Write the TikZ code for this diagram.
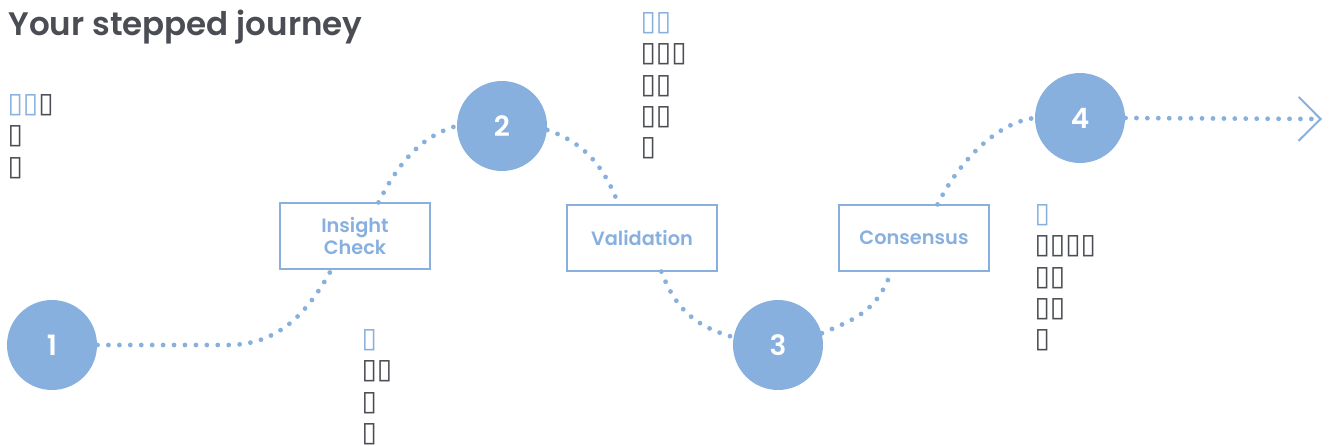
\documentclass[tikz,border=0pt]{standalone}
\usepackage{fontspec}
\setmainfont{Poppins}[BoldFont={Poppins SemiBold}]
\newfontfamily\boxfont{DejaVu Sans}
\usetikzlibrary{arrows.meta}
\definecolor{stepblue}{RGB}{136,176,222}
\definecolor{inkgray}{RGB}{74,77,84}
\tikzset{every picture/.style={line width=0.75pt}}
\tikzset{
  stepcircle/.style={circle, fill=stepblue, minimum size=67.5pt, inner sep=0pt, text=white, font=\bfseries\fontsize{21}{21}\selectfont},
  stagebox/.style={draw=stepblue, line width=0.9pt, minimum width=112.5pt, minimum height=49.5pt, inner sep=0pt, text=stepblue, align=center, font=\bfseries\fontsize{14.5}{17}\selectfont},
  dotline/.style={draw=stepblue, line width=3.6pt, line cap=round, dash pattern=on 0pt off 8.2pt},
  notebox/.style={anchor=north west, inner sep=0pt, align=left, text=inkgray, font=\boxfont\bfseries\fontsize{21}{23.5}\selectfont},
}

\begin{document}
\begin{tikzpicture}[x=0.75pt,y=0.75pt,yscale=-1,xscale=1]
\useasboundingbox (0,0) rectangle (1332,446);

% Title
\node [anchor=base west, inner sep=0pt, text=inkgray, font=\bfseries\fontsize{24.4}{24.4}\selectfont] (title) at (8,36) {Your stepped journey};

%Shape: Circle steps
\node [stepcircle] (c1) at (52,345) {1};
\node [stepcircle] (c2) at (502,126) {2};
\node [stepcircle] (c3) at (778,345) {3};
\node [stepcircle] (c4) at (1080,118) {4};

%Shape: Rectangle stages
\node [stagebox] (ins) at (355,236) {Insight\\Check};
\node [stagebox] (val) at (642,238) {Validation};
\node [stagebox] (con) at (914,238) {Consensus};

%Curve Lines (dotted path)
\draw [dotline] (c1.east) -- ++(130,0) .. controls +(50,0) and +(-25,45) .. (ins.235);
\draw [dotline] (ins.55) .. controls +(20,-40) and +(-35,10) .. (c2.west);
\draw [dotline] (c2.-5) .. controls +(35,12) and +(-15,-40) .. (val.125);
\draw [dotline] (val.-60) .. controls +(15,40) and +(-35,-10) .. (c3.170);
\draw [dotline] (c3.15) .. controls +(35,-15) and +(-15,40) .. (con.236);
\draw [dotline] (con.55) .. controls +(20,-40) and +(-40,5) .. (c4.west);

%Straight Lines with open arrow
\coordinate (arrowtip) at (1322,119);
\draw [dotline, -{Straight Barb[length=16.5pt, width=33pt, line width=1.5pt]}] (c4.east) -- (arrowtip);

% Text Node
\node [notebox] (note1) at (7,94) {{\color{stepblue}▯▯}▯\\▯\\▯};
% Text Node
\node [notebox] (note2) at (640,12) {{\color{stepblue}▯▯}\\▯▯▯\\▯▯\\▯▯\\▯};
% Text Node
\node [notebox] (note3) at (361,329) {{\color{stepblue}▯}\\▯▯\\▯\\▯};
% Text Node
\node [notebox] (note4) at (1034,204) {{\color{stepblue}▯}\\▯▯▯▯\\▯▯\\▯▯\\▯};

\end{tikzpicture}
\end{document}
